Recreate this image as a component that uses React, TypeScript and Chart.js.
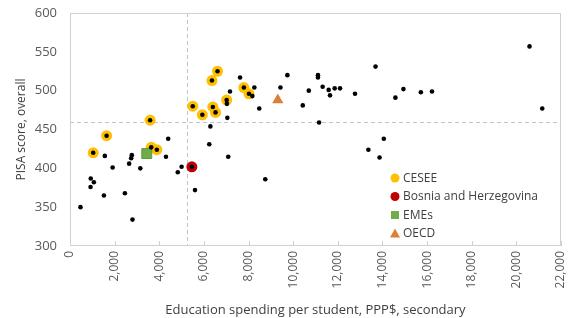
import React, { useEffect, useRef } from "react";
import { Chart, registerables } from "chart.js";
Chart.register(...registerables);

// CESEE countries
const ceseeX = [1040, 1640, 3590, 3640, 3890, 5500, 5930, 6360, 6610, 6400, 6520, 7020, 7790, 8020];
const ceseeY = [420, 442, 462, 427, 424, 480, 469, 513, 525, 479, 472, 488, 504, 496];
// Bosnia and Herzegovina
const bihX = [5460];
const bihY = [402];
// EMEs average
const emeX = [3440];
const emeY = [419];
// OECD average
const oecdX = [9310];
const oecdY = [488];
// Other countries (black dots)
const otherX = [470, 920, 930, 1070, 1520, 1560, 1910, 2460, 2650, 2740, 2770, 2800, 3150, 4300, 4400, 4830, 5000, 5600, 6240, 6290, 7030, 7050, 7090, 7170, 7620, 8170, 8260, 8480, 8750, 9430, 9740, 10430, 10700, 11110, 11110, 11160, 11320, 11590, 11650, 11860, 12100, 12770, 13370, 13690, 13870, 14060, 14580, 14940, 15720, 16220, 20590, 21160];
const otherY = [350, 376, 387, 382, 365, 416, 401, 368, 406, 413, 417, 334, 400, 415, 438, 395, 402, 372, 431, 454, 483, 465, 415, 499, 517, 493, 504, 477, 386, 504, 520, 481, 500, 520, 517, 459, 505, 501, 494, 503, 503, 496, 424, 531, 414, 438, 491, 502, 498, 499, 557, 477];

// Reference lines
const refX = 5250;
const refY = 460;

const xMin = 0, xMax = 22000, xStep = 2000;
const yMin = 300, yMax = 600, yStep = 50;

const xTitle = "Education spending per student, PPP$, secondary";
const yTitle = "PISA score, overall";

const FONT = "'Open Sans', 'Noto Sans', sans-serif";

const zip = (xs: number[], ys: number[]) => xs.map((x, i) => ({ x, y: ys[i] }));

export default function App() {
  const ref = useRef<HTMLCanvasElement>(null);
  useEffect(() => {
    document.body.style.margin = "0";
    const canvas = ref.current!;

    const refLines = {
      id: "refLines",
      beforeDatasetsDraw(chart: any) {
        const { ctx, chartArea: ca, scales } = chart;
        const px = scales.x.getPixelForValue(refX);
        const py = scales.y.getPixelForValue(refY);
        ctx.save();
        ctx.strokeStyle = "#c4c4c4";
        ctx.lineWidth = 1;
        ctx.setLineDash([4, 3]);
        ctx.beginPath();
        ctx.moveTo(Math.round(px) + 0.5, ca.top);
        ctx.lineTo(Math.round(px) + 0.5, ca.bottom);
        ctx.moveTo(ca.left, Math.round(py) + 0.5);
        ctx.lineTo(ca.right, Math.round(py) + 0.5);
        ctx.stroke();
        ctx.setLineDash([]);
        // frame
        ctx.strokeStyle = "#d0d0d0";
        ctx.strokeRect(Math.round(ca.left) + 0.5, Math.round(ca.top) + 0.5, Math.round(ca.right - ca.left) - 1, Math.round(ca.bottom - ca.top) - 1);
        // inward x ticks
        ctx.beginPath();
        scales.x.ticks.forEach((t: any) => {
          const x = Math.round(scales.x.getPixelForValue(t.value)) + 0.5;
          ctx.moveTo(x, ca.bottom);
          ctx.lineTo(x, ca.bottom - 5);
        });
        ctx.stroke();
        ctx.restore();
      },
    };

    const customLegend = {
      id: "customLegend",
      afterDraw(chart: any) {
        const { ctx, chartArea: ca } = chart;
        const lx = ca.left + 325;
        const ly0 = ca.top + 165;
        const gap = 18.5;
        ctx.save();
        ctx.font = `12px ${FONT}`;
        ctx.textBaseline = "middle";
        chart.data.datasets.forEach((ds: any) => {
          if (ds.legendRow === undefined) return;
          const y = ly0 + ds.legendRow * gap;
          ctx.fillStyle = ds.backgroundColor;
          ctx.beginPath();
          if (ds.pointStyle === "rect") {
            ctx.rect(lx - 4, y - 4, 8, 8);
          } else if (ds.pointStyle === "triangle") {
            ctx.moveTo(lx, y - 5);
            ctx.lineTo(lx + 5, y + 4);
            ctx.lineTo(lx - 5, y + 4);
            ctx.closePath();
          } else {
            ctx.arc(lx, y, 4.5, 0, Math.PI * 2);
          }
          ctx.fill();
          ctx.fillStyle = "#404040";
          ctx.fillText(ds.label, lx + 8, y + 0.5);
        });
        ctx.restore();
      },
    };

    const chart = new Chart(canvas, {
      type: "scatter",
      data: {
        datasets: [
          {
            label: "All countries",
            data: zip([...otherX, ...ceseeX, ...bihX], [...otherY, ...ceseeY, ...bihY]),
            backgroundColor: "#000000",
            borderColor: "#000000",
            pointRadius: 2.3,
            borderWidth: 0,
            order: 0,
          },
          {
            label: "EMEs",
            data: zip(emeX, emeY),
            backgroundColor: "#70AD47",
            borderColor: "#5a9a3a",
            borderWidth: 1,
            pointStyle: "rect",
            pointRadius: 7,
            order: 1,
            legendRow: 2,
          },
          {
            label: "OECD",
            data: zip(oecdX, oecdY),
            backgroundColor: "#D9803A",
            borderColor: "#D9803A",
            borderWidth: 0,
            pointStyle: "triangle",
            pointRadius: 6.5,
            order: 2,
            legendRow: 3,
          },
          {
            label: "Bosnia and Herzegovina",
            data: zip(bihX, bihY),
            backgroundColor: "#C00000",
            borderColor: "#C00000",
            borderWidth: 0,
            pointRadius: 5.5,
            order: 3,
            legendRow: 1,
          },
          {
            label: "CESEE",
            data: zip(ceseeX, ceseeY),
            backgroundColor: "#FFC000",
            borderColor: "#FFC000",
            borderWidth: 0,
            pointRadius: 5.5,
            order: 4,
            legendRow: 0,
          },
        ] as any,
      },
      options: {
        animation: false,
        responsive: false,
        maintainAspectRatio: false,
        layout: { padding: { top: 13, right: 12, left: 0, bottom: 0 } },
        plugins: {
          legend: { display: false },
          tooltip: { enabled: false },
        },
        scales: {
          x: {
            type: "linear",
            min: xMin,
            max: xMax,
            border: { display: false },
            grid: { display: false, drawTicks: false },
            ticks: {
              stepSize: xStep,
              minRotation: 90,
              maxRotation: 90,
              padding: 5,
              color: "#595959",
              font: { family: FONT, size: 12 },
              callback: (v: any) => Number(v).toLocaleString("en-US"),
            },
            title: {
              display: true,
              text: xTitle,
              color: "#404040",
              font: { family: FONT, size: 13 },
              padding: { top: 4, bottom: 0 },
            },
            afterFit: (s: any) => {
              s.height = 72;
              s.paddingLeft = 0;
              s.paddingRight = 0;
              s.paddingTop = 0;
              s.paddingBottom = 0;
            },
          },
          y: {
            type: "linear",
            min: yMin,
            max: yMax,
            border: { display: false },
            grid: { display: false, drawTicks: false },
            ticks: {
              stepSize: yStep,
              padding: 13,
              color: "#595959",
              font: { family: FONT, size: 13 },
            },
            title: {
              display: true,
              text: yTitle,
              color: "#404040",
              font: { family: FONT, size: 12 },
              padding: { top: 14, bottom: 4 },
            },
            afterFit: (s: any) => {
              s.width = 70;
              s.paddingTop = 0;
              s.paddingBottom = 0;
              s.paddingLeft = 0;
              s.paddingRight = 0;
            },
          },
        },
      },
      plugins: [refLines, customLegend],
    });
    return () => chart.destroy();
  }, []);

  return (
    <div style={{ width: 573, height: 318, background: "#fff" }}>
      <canvas ref={ref} width={573} height={318} style={{ display: "block" }} />
    </div>
  );
}
